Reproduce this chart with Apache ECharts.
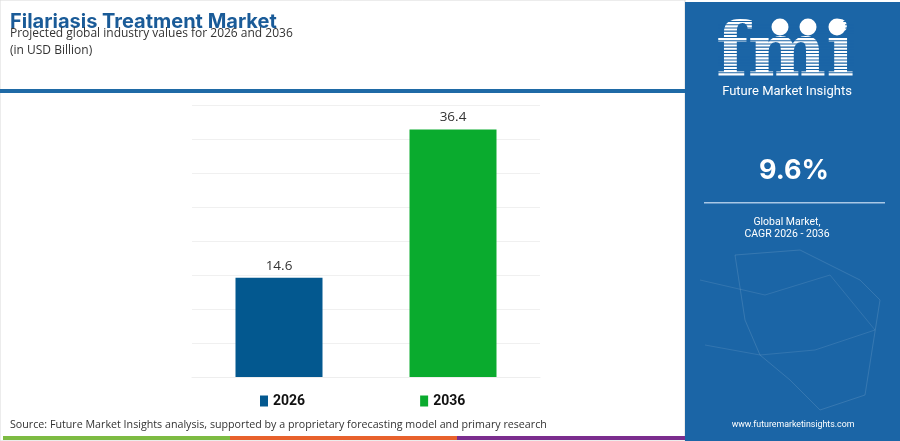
<!DOCTYPE html>
<html>
<head>
<meta charset="utf-8">
<script src="https://cdn.jsdelivr.net/npm/echarts@6/dist/echarts.min.js"></script>
<style>
html,body{margin:0;padding:0;background:#fff;}
#c{width:900px;height:441px;}
</style>
</head>
<body>
<div id="c"></div>
<script>
// ---- data ----
const categories = ['2026', '2036'];
const values2026 = [14.6, '-'];
const values2036 = ['-', 36.4];
const yTicks = [0, 5, 10, 15, 20, 25, 30, 35, 40];
const titleText = 'Filariasis Treatment Market';
const subtitleText = 'Projected global industry values for 2026 and 2036';
const unitText = '(in USD Billion)';
const cagrText = '9.6%';
const sourceText = 'Source: Future Market Insights analysis, supported by a proprietary forecasting model and primary research';

const panel = '#1b65a6';
const chart = echarts.init(document.getElementById('c'));

// logo stripes
const stripes = [];
for (let y = 21; y < 76; y += 3.2) {
  stripes.push({type:'rect', z: 20, shape:{x:718, y:y, width:136, height:1.1}, style:{fill: panel}});
}

const graphic = [
  {type:'rect', z:0, shape:{x:0,y:0,width:685,height:441}, style:{fill:'#fff', stroke:'#d9d9d9', lineWidth:1}},
  {type:'rect', z:1, shape:{x:0,y:89,width:685,height:4}, style:{fill:'#1f6aa6'}},
  {type:'rect', z:1, shape:{x:685,y:2,width:215,height:439}, style:{fill:panel}},
  {type:'text', z:5, x:10, y:21.5, style:{text:titleText, fill:'#1a5b98', font:'bold 20px Inter, "Open Sans", sans-serif', verticalAlign:'middle'}},
  {type:'text', z:5, x:10, y:33.5, style:{text:subtitleText, fill:'#333', font:'12px "Open Sans", Lato, sans-serif', verticalAlign:'middle'}},
  {type:'text', z:5, x:10, y:51, style:{text:unitText, fill:'#333', font:'12px "Open Sans", Lato, sans-serif', verticalAlign:'middle'}},
  // logo
  {type:'text', z:10, left:716, top:20, style:{text:'fmi', fill:'#fff', font:'bold 74px "DejaVu Serif", serif'}},
  ...stripes,
  {type:'circle', z:25, shape:{cx:780,cy:27,r:8.5}, style:{fill:'#fff'}},
  {type:'circle', z:25, shape:{cx:808,cy:27,r:8.5}, style:{fill:'#fff'}},
  {type:'circle', z:25, shape:{cx:837,cy:27,r:8.5}, style:{fill:'#fff'}},
  {type:'text', z:10, x:787, y:92, style:{text:'Future Market Insights', fill:'#fff', font:'13px Roboto, sans-serif', align:'center', verticalAlign:'middle'}},
  {type:'text', z:10, x:794, y:171, style:{text:cagrText, fill:'#fff', font:'bold 27px Inter, Roboto, sans-serif', align:'center', verticalAlign:'middle'}},
  {type:'rect', z:10, shape:{x:704,y:202,width:181,height:1.5}, style:{fill:'#a9c8e6'}},
  {type:'text', z:10, x:787, y:222, style:{text:'Global Market,', fill:'#fff', font:'10.5px Roboto, sans-serif', align:'center', verticalAlign:'middle'}},
  {type:'text', z:10, x:787, y:234.5, style:{text:'CAGR 2026 - 2036', fill:'#fff', font:'10.5px Roboto, sans-serif', align:'center', verticalAlign:'middle'}},
  {type:'text', z:10, x:793, y:425, style:{text:'www.futuremarketinsights.com', fill:'#fff', font:'8.8px Roboto, sans-serif', align:'center', verticalAlign:'middle'}},
  // network decoration
  {type:'polyline', z:6, shape:{points:[[735,255],[745,320],[760,355],[790,380],[820,410],[865,395],[880,300],[860,280],[800,250],[735,255]]}, style:{stroke:'rgba(255,255,255,0.12)', fill:'none', lineWidth:1}},
  {type:'polyline', z:6, shape:{points:[[700,280],[765,295],[830,275],[875,330],[815,350],[760,355],[705,345]]}, style:{stroke:'rgba(255,255,255,0.10)', fill:'none', lineWidth:1}},
  {type:'text', z:5, x:10, y:425, style:{text:sourceText, fill:'#333', font:'10.7px "Open Sans", sans-serif', verticalAlign:'middle'}},
  {type:'rect', z:5, shape:{x:3,y:436,width:227,height:4}, style:{fill:'#7dbb42'}},
  {type:'rect', z:5, shape:{x:230,y:436,width:227,height:4}, style:{fill:'#e8612c'}},
  {type:'rect', z:5, shape:{x:457,y:436,width:228,height:4}, style:{fill:'#7b2d8e'}}
];

chart.setOption({
  animation: false,
  graphic: graphic,
  legend: {
    data: categories,
    left: 255, top: 389,
    itemWidth: 8, itemHeight: 11, itemGap: 115,
    icon: 'rect',
    textStyle: {fontFamily: 'Roboto, sans-serif', fontWeight: 'bold', fontSize: 14, color: '#111'}
  },
  grid: {left: 192, right: 360, top: 105, bottom: 64, containLabel: false},
  xAxis: {
    type: 'category', data: categories,
    axisLine: {show: true, lineStyle: {color: '#eeeeee'}},
    axisTick: {show: false}, axisLabel: {show: false}
  },
  yAxis: {
    type: 'value', min: yTicks[0], max: yTicks[yTicks.length-1], interval: 5,
    axisLine: {show: false}, axisTick: {show: false}, axisLabel: {show: false},
    splitLine: {lineStyle: {color: '#f0f0f0', width: 1}}
  },
  series: [
    {name: '2026', type: 'bar', stack: 't', data: values2026, barWidth: 87, z: 3,
     itemStyle: {color: '#03588f'},
     label: {show: true, position: 'top', distance: 5, color: '#333', fontSize: 13.5, fontFamily: '"Open Sans", sans-serif'}},
    {name: '2036', type: 'bar', stack: 't', data: values2036, barWidth: 87, z: 3,
     itemStyle: {color: '#0aab2e'},
     label: {show: true, position: 'top', distance: 5, color: '#333', fontSize: 13.5, fontFamily: '"Open Sans", sans-serif'}}
  ]
});
</script>
</body>
</html>
